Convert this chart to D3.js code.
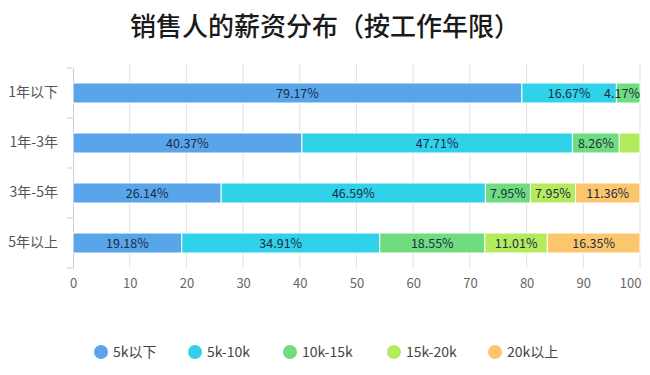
<!DOCTYPE html>
<html>
<head>
<meta charset="utf-8">
<script src="https://cdn.jsdelivr.net/npm/d3@7/dist/d3.min.js"></script>
<style>
  body { margin: 0; background: #fff; }
  svg { display: block; font-family: "Noto Sans CJK SC", "Noto Sans", sans-serif; }
</style>
</head>
<body>
<div id="chart"></div>
<script>
var categories = ['1年以下', '1年-3年', '3年-5年', '5年以上'];
var seriesNames = ['5k以下', '5k-10k', '10k-15k', '15k-20k', '20k以上'];
var seriesColors = ['#58a5ea', '#2fd2e9', '#6fdc7f', '#b4eb5d', '#fbc66c'];
var values = [
  [79.17, 16.67, 4.17, 0, 0],
  [40.37, 47.71, 8.26, 3.66, 0],
  [26.14, 46.59, 7.95, 7.95, 11.36],
  [19.18, 34.91, 18.55, 11.01, 16.35]
];
var xTicks = [0, 10, 20, 30, 40, 50, 60, 70, 80, 90, 100];

var width = 650, height = 375;
var plotLeft = 73, plotRight = 640, plotTop = 68, plotBottom = 268;

var svg = d3.select('#chart').append('svg')
  .attr('width', width)
  .attr('height', height);

svg.append('text')
  .attr('x', width / 2)
  .attr('y', 36)
  .attr('text-anchor', 'middle')
  .style('font-size', '26px')
  .style('font-weight', 500)
  .style('fill', '#1a1a1a')
  .text('销售人的薪资分布（按工作年限）');

var x = d3.scaleLinear().domain([0, 100]).range([plotLeft, plotRight]);
var y = d3.scaleBand().domain(categories).range([plotTop, plotBottom]).paddingInner(0.6).paddingOuter(0.3);
var color = d3.scaleOrdinal().domain(seriesNames).range(seriesColors);

// grid
svg.append('g')
  .selectAll('line')
  .data(xTicks.slice(1))
  .enter()
  .append('line')
  .attr('x1', function(d) { return x(d) })
  .attr('x2', function(d) { return x(d) })
  .attr('y1', plotTop - 4)
  .attr('y2', plotBottom)
  .style('stroke', '#e2e2e2');

// x tick labels
var xAxis = svg.append('g')
  .attr('transform', 'translate(0,' + plotBottom + ')')
  .call(d3.axisBottom(x).tickValues(xTicks).tickSize(0).tickPadding(11));
xAxis.select('.domain').remove();
xAxis.selectAll('text')
  .style('font-size', '13px')
  .style('fill', '#666')
  .style('font-family', '"Noto Sans CJK SC", sans-serif')
  .filter(function(d) { return d === 100 })
  .attr('text-anchor', 'end')
  .attr('dx', 1);

// y axis
var yAxis = svg.append('g')
  .attr('transform', 'translate(' + plotLeft + ',0)')
  .call(d3.axisLeft(y).tickSize(0).tickPadding(15));
yAxis.select('.domain').style('stroke', '#cfcfcf');
yAxis.selectAll('text')
  .style('font-size', '14px')
  .style('fill', '#555')
  .style('font-family', '"Noto Sans CJK SC", sans-serif');
yAxis.selectAll('.sep')
  .data(d3.range(categories.length + 1))
  .enter()
  .append('line')
  .attr('x1', -6)
  .attr('x2', 0)
  .attr('y1', function(i) { return plotTop + i * (plotBottom - plotTop) / categories.length })
  .attr('y2', function(i) { return plotTop + i * (plotBottom - plotTop) / categories.length })
  .style('stroke', '#cfcfcf');

// stacked bars
var rows = categories.map(function(c, i) {
  var acc = 0;
  return values[i].map(function(v, j) {
    var seg = { cat: c, name: seriesNames[j], value: v, x0: acc, x1: acc + v };
    acc += v;
    return seg;
  }).filter(function(s) { return s.value > 0 });
});

var bars = svg.append('g')
  .selectAll('g')
  .data(rows)
  .enter()
  .append('g');

bars.selectAll('rect')
  .data(function(d) { return d })
  .enter()
  .append('rect')
  .attr('x', function(d) { return x(d.x0) })
  .attr('y', function(d) { return y(d.cat) })
  .attr('width', function(d) { return x(d.x1) - x(d.x0) })
  .attr('height', y.bandwidth())
  .style('fill', function(d) { return color(d.name) })
  .style('stroke', '#fff')
  .style('stroke-width', 1);

bars.selectAll('text')
  .data(function(d) { return d.filter(function(s) { return s.value >= 4 }) })
  .enter()
  .append('text')
  .attr('x', function(d) { return Math.min((x(d.x0) + x(d.x1)) / 2, plotRight - 18) })
  .attr('y', function(d) { return y(d.cat) + y.bandwidth() / 2 })
  .attr('dy', '0.36em')
  .attr('text-anchor', 'middle')
  .style('font-size', '12.5px')
  .style('fill', '#1d2b47')
  .text(function(d) { return d.value.toFixed(2) + '%' });

// legend
var legendX = [101, 195, 290, 394, 495];
var legend = svg.append('g')
  .selectAll('g')
  .data(seriesNames)
  .enter()
  .append('g')
  .attr('transform', function(d, i) { return 'translate(' + legendX[i] + ',352)' });
legend.append('circle')
  .attr('r', 7)
  .style('fill', function(d) { return color(d) });
legend.append('text')
  .attr('x', 12)
  .attr('dy', '0.36em')
  .style('font-size', '14px')
  .style('fill', '#444')
  .text(function(d) { return d });
</script>
</body>
</html>
